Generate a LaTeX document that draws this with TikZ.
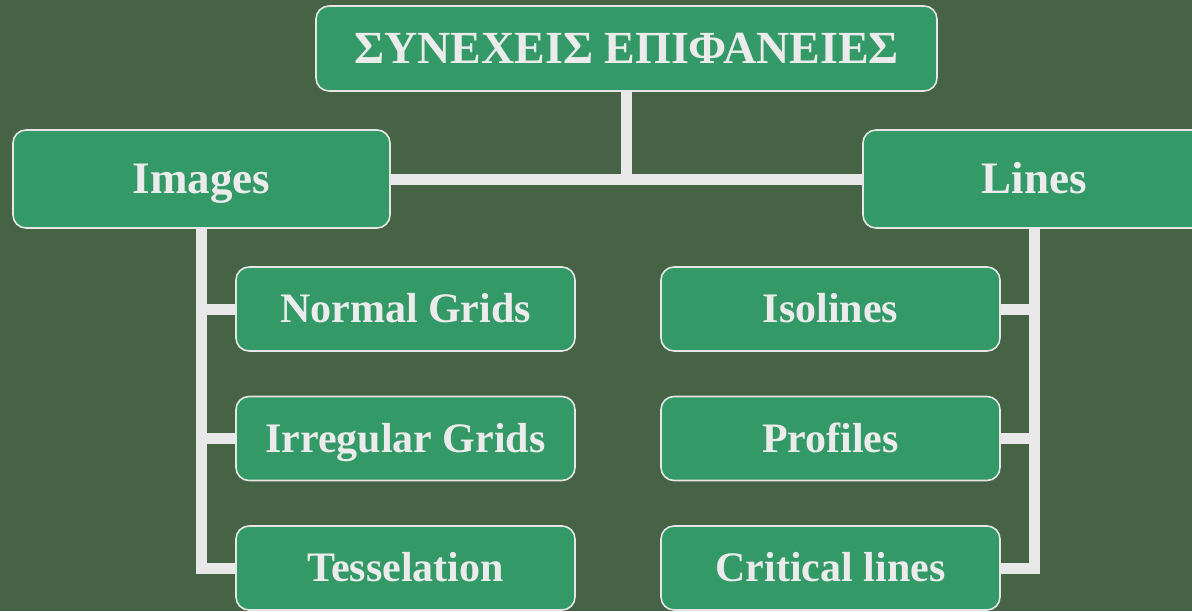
\documentclass[tikz,border=0pt]{standalone}
\usepackage{fontspec}
\setmainfont{Liberation Serif}
\begin{document}
\begin{tikzpicture}[x=1pt,y=-1pt,
  bgcol/.style={fill={rgb,255:red,71;green,99;blue,69}},
  box/.style={draw={rgb,255:red,230;green,230;blue,230}, line width=1.6pt,
    fill={rgb,255:red,51;green,153;blue,102}, rounded corners=13pt,
    text={rgb,255:red,235;green,235;blue,235}, inner sep=0pt, text depth=0pt},
  topbox/.style={box, minimum width=621pt, minimum height=85pt, text height=30.4pt, font=\bfseries\fontsize{46}{54}\selectfont},
  parbox/.style={box, minimum height=98pt, text height=29.7pt, font=\bfseries\fontsize{45}{54}\selectfont},
  kidbox/.style={box, minimum width=339pt, minimum height=84pt, text height=27.7pt, font=\bfseries\fontsize{42}{50}\selectfont},
  conn/.style={draw={rgb,255:red,232;green,232;blue,232}, line width=11pt}
]
\fill[bgcol] (0,0) rectangle (1192,611);
\useasboundingbox (0,0) rectangle (1192,611);
\clip (0,0) rectangle (1192,611);

\node[topbox] (top) at (626.5,48.5) {ΣΥΝΕΧΕΙΣ ΕΠΙΦΑΝΕΙΕΣ};
\node[parbox, minimum width=377pt] (img) at (201.5,179) {Images};
\node[parbox, minimum width=342pt] (lin) at (1034,179) {Lines};

\node[kidbox] (ng) at (405.5,309) {Normal Grids};
\node[kidbox] (ig) at (405.5,438.5) {Irregular Grids};
\node[kidbox] (ts) at (405.5,568) {Tesselation};
\node[kidbox] (iso) at (830.5,309) {Isolines};
\node[kidbox] (pro) at (830.5,438.5) {Profiles};
\node[kidbox] (crit) at (830.5,568) {Critical lines};

\draw[conn] (top.south) -- (top.south |- img.east);
\draw[conn] (img.east) -- (lin.west);
\draw[conn] (img.south) |- (ts.west);
\draw[conn] (img.south |- ng.west) -- (ng.west);
\draw[conn] (img.south |- ig.west) -- (ig.west);
\draw[conn] (lin.south) |- (crit.east);
\draw[conn] (lin.south |- iso.east) -- (iso.east);
\draw[conn] (lin.south |- pro.east) -- (pro.east);
\end{tikzpicture}
\end{document}
